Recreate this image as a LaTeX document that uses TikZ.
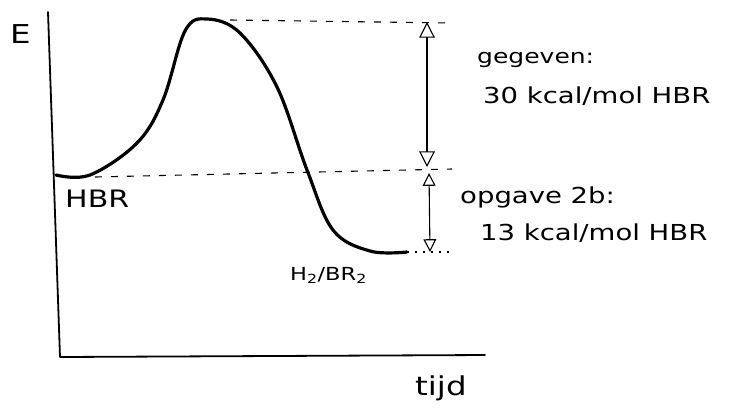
\documentclass[tikz,border=0pt]{standalone}
\usepackage{fontspec}
\setmainfont{DejaVu Sans}
\newfontfamily\hand[FakeStretch=1.25]{DejaVu Sans}
\usetikzlibrary{positioning, arrows.meta}

\begin{document}
\begin{tikzpicture}[
  x=1pt, y=-1pt,
  font=\hand\fontsize{22}{26}\selectfont,
  axis/.style={line width=1.8pt, line cap=round, line join=round},
  profile/.style={line width=3.2pt, line cap=round},
  level/.style={dashed, dash pattern=on 7pt off 9pt, line width=1.1pt},
  gap/.style={{Triangle[open, length=5.5mm, width=5.5mm]}-{Triangle[open, length=5.5mm, width=5.5mm]}, line width=1.1pt},
  lbl/.style={inner sep=0pt, anchor=base west}
]
\useasboundingbox (0,0) rectangle (738,408);
% ----- axes -----
\coordinate (ytop) at (48,12);
\coordinate (origin) at (60,357);
\coordinate (xend) at (485,355);
\draw[axis] (ytop) -- (origin) -- (xend);
\node[lbl, font=\hand\fontsize{26}{30}\selectfont] (E) at (10,43) {E};
\node[lbl, font=\hand\fontsize{26}{30}\selectfont] (tijd) at (415,395) {tijd};
% ----- energy profile -----
\coordinate (start) at (56,175);
\coordinate (peak) at (207,19);
\coordinate (low) at (407,252);
\draw[profile] plot[smooth, tension=0.6] coordinates {
  (start) (90,175) (137,143) (163,100) (185,31)
  (peak) (240,33) (277,87) (307,170) (333,230) (370,251) (low)};
\node[lbl, font=\hand\fontsize{24}{28}\selectfont] (HBr) at (65,207) {HBR};
\node[lbl, font=\hand\fontsize{18}{22}\selectfont] (prod) at (290,280) {H\textsubscript{2}/BR\textsubscript{2}};
% ----- levels -----
\coordinate (topL) at (230,20);
\coordinate (topR) at (452,23);
\coordinate (midL) at (95,177);
\coordinate (midR) at (452,169);
\coordinate (lowR) at (450,252);
\draw[level] (topL) -- (topR);
\draw[level] (midL) -- (midR);
\draw[level, dash pattern=on 2pt off 6pt] (low) -- (lowR);
% ----- differences -----
\coordinate (a1) at (427,22);
\coordinate (a2) at (427,167);
\coordinate (b1) at (429,173);
\coordinate (b2) at (430,252);
\draw[gap] (a1) -- (a2);
\draw[gap, {Triangle[open, length=4.5mm, width=4.5mm]}-{Triangle[open, length=4.5mm, width=4.5mm]}] (b1) -- (b2);
\node[lbl, font=\hand\fontsize{20}{24}\selectfont] (given) at (477,63) {gegeven:};
\node[lbl] (act) at (483,103) {30 kcal/mol HBR};
\node[lbl] (task) at (460,203) {opgave 2b:};
\node[lbl] (react) at (480,240) {13 kcal/mol HBR};
\end{tikzpicture}
\end{document}
